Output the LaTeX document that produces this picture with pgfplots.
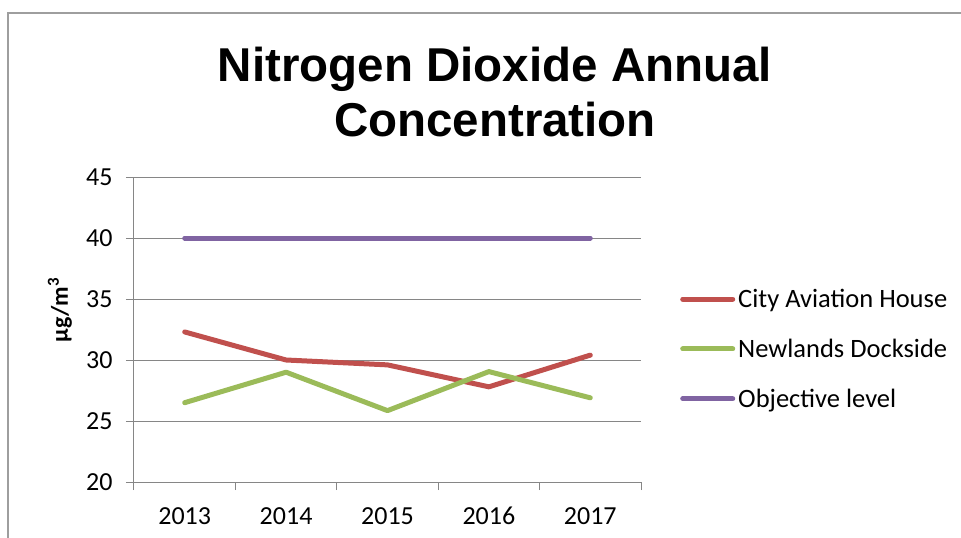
\documentclass[border=0pt]{standalone}
\usepackage{pgfplots}
\pgfplotsset{compat=1.18}
\usepackage{fontspec}
\setmainfont{Carlito}
\newfontfamily\titlefont{Liberation Sans}
\definecolor{cred}{HTML}{C0504D}
\definecolor{cgreen}{HTML}{9BBB59}
\definecolor{cpurple}{HTML}{8064A2}
\definecolor{cgrid}{HTML}{868686}
\begin{document}
\begin{tikzpicture}
\path[use as bounding box] (-134pt,-56pt) rectangle (827pt,482pt);
\draw[cgrid!80, line width=1.5pt] (-126pt,-60pt) -- (-126pt,469pt) -- (830pt,469pt);
\node[align=center, font=\titlefont\bfseries\fontsize{47.5}{55}\selectfont] at (361pt,390pt) {Nitrogen Dioxide Annual\\Concentration};
\begin{axis}[
  anchor=south west, at={(0pt,0pt)},
  scale only axis, width=507pt, height=305pt,
  xmin=-0.5, xmax=4.5, ymin=20, ymax=45,
  axis lines*=left,
  axis line style={cgrid, line width=1pt},
  xtick={0,1,2,3,4},
  xticklabels={2013,2014,2015,2016,2017},
  minor xtick={-0.5,0.5,1.5,2.5,3.5,4.5},
  ytick={20,25,30,35,40,45},
  tick align=outside,
  major tick length=8pt, minor tick length=8pt,
  x tick style={draw=none},
  minor x tick style={draw=cgrid, line width=1pt},
  y tick style={draw=cgrid, line width=1pt},
  ymajorgrids,
  grid style={cgrid, line width=1pt},
  /pgf/number format/assume math mode=true,
  ticklabel style={font=\fontsize{26}{26}\selectfont},
  yticklabel style={xshift=-10pt},
  xticklabel style={anchor=north, text height=17pt, text depth=0pt, yshift=-14pt},
  ylabel={\textbf{µg/m\textsuperscript{3}}},
  ylabel style={font=\fontsize{24}{24}\selectfont, at={(axis description cs:-0.146,0.564)}, anchor=center},
  legend style={draw=none, fill=none, at={(axis description cs:1.077,0.436)}, anchor=west,
    font=\fontsize{26.5}{26.5}\selectfont, row sep=24pt, inner sep=0pt,
    nodes={inner sep=3pt}},
  legend cell align=left,
  legend image code/.code={\draw[#1, line width=5pt, line cap=round] (0pt,0pt) -- (50pt,0pt);},
  every axis plot/.append style={line width=5pt, line join=round, line cap=round},
]
\addplot[cred] coordinates {(0,32.3) (1,30.0) (2,29.6) (3,27.8) (4,30.4)};
\addlegendentry{City Aviation House}
\addplot[cgreen] coordinates {(0,26.5) (1,29.0) (2,25.85) (3,29.05) (4,26.9)};
\addlegendentry{Newlands Dockside}
\addplot[cpurple] coordinates {(0,40) (1,40) (2,40) (3,40) (4,40)};
\addlegendentry{Objective level}
\end{axis}
\end{tikzpicture}
\end{document}
